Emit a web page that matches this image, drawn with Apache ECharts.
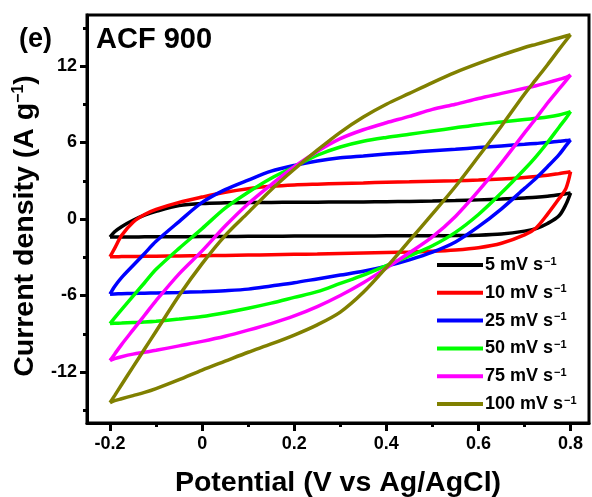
<!DOCTYPE html>
<html><head><meta charset="utf-8">
<script src="https://cdn.jsdelivr.net/npm/echarts@6/dist/echarts.min.js"></script>
<style>html,body{margin:0;padding:0;background:#fff}#c{width:592px;height:497px}</style>
</head><body><div id="c"></div>
<script>
// Potential grid (V vs Ag/AgCl): forward scan -0.2 -> 0.8, reverse 0.8 -> -0.2
const potentialFwd = [-0.2,-0.19,-0.175,-0.15,-0.125,-0.1,-0.05,0,0.05,0.1,0.15,0.2,0.25,0.3,0.35,0.4,0.45,0.5,0.55,0.6,0.65,0.7,0.725,0.75,0.775,0.79,0.8];
const potentialRev = [0.8,0.79,0.775,0.75,0.725,0.7,0.65,0.6,0.55,0.5,0.45,0.4,0.35,0.3,0.25,0.2,0.15,0.1,0.05,0,-0.05,-0.1,-0.125,-0.15,-0.175,-0.19,-0.2];

const scanRates = ['5','10','25','50','75','100'];
const colors = ['#000000','#ff0000','#0000ff','#00ff00','#ff00ff','#808000'];

// Current density (A g^-1)
const fwd5   = [-1.42,-1.0,-0.6,-0.1,0.3,0.6,1.05,1.22,1.27,1.29,1.3,1.31,1.32,1.33,1.34,1.36,1.38,1.41,1.45,1.5,1.56,1.65,1.7,1.78,1.9,1.98,2.05];
const rev5   = [2.05,1.15,0.25,-0.35,-0.75,-0.95,-1.18,-1.27,-1.3,-1.31,-1.32,-1.32,-1.33,-1.33,-1.34,-1.34,-1.35,-1.36,-1.37,-1.38,-1.39,-1.4,-1.4,-1.41,-1.41,-1.42,-1.42];
const fwd10  = [-2.96,-2.3,-1.3,-0.25,0.35,0.75,1.3,1.72,2.1,2.38,2.56,2.67,2.73,2.78,2.83,2.88,2.92,2.96,3.0,3.05,3.13,3.25,3.33,3.43,3.56,3.64,3.71];
const rev10  = [3.71,2.4,1.6,0.38,-0.7,-1.25,-1.9,-2.25,-2.43,-2.53,-2.58,-2.62,-2.66,-2.7,-2.74,-2.77,-2.8,-2.83,-2.86,-2.88,-2.9,-2.92,-2.93,-2.94,-2.95,-2.96,-2.96];
const fwd25  = [-5.9,-5.3,-4.6,-3.65,-2.7,-1.75,-0.2,1.3,2.3,3.05,3.75,4.2,4.55,4.8,4.95,5.1,5.22,5.35,5.47,5.6,5.73,5.86,5.93,6.0,6.1,6.15,6.2];
const rev25  = [6.2,5.75,5.05,4.1,3.2,2.4,0.8,-0.6,-1.8,-2.6,-3.2,-3.7,-4.1,-4.4,-4.7,-5.0,-5.25,-5.5,-5.62,-5.7,-5.76,-5.8,-5.82,-5.84,-5.86,-5.88,-5.9];
const fwd50  = [-8.2,-7.75,-7.1,-6.05,-5.0,-3.95,-2.3,-0.75,0.85,2.1,3.2,4.1,5.0,5.65,6.1,6.4,6.65,6.9,7.15,7.4,7.6,7.8,7.9,8.0,8.15,8.3,8.42];
const rev50  = [8.42,7.9,7.2,6.0,4.9,3.9,2.05,0.35,-1.05,-2.1,-2.9,-3.65,-4.4,-5.05,-5.7,-6.15,-6.6,-7.0,-7.35,-7.65,-7.85,-8.02,-8.08,-8.12,-8.16,-8.18,-8.2];
const fwd75  = [-11.1,-10.6,-9.85,-8.7,-7.55,-6.4,-4.3,-2.5,-0.55,1.2,2.7,4.1,5.3,6.3,7.0,7.55,8.05,8.6,9.0,9.45,9.85,10.25,10.45,10.7,10.95,11.1,11.3];
const rev75  = [11.3,10.85,10.2,9.1,7.9,6.75,4.4,2.2,0.2,-1.4,-2.65,-3.85,-5.0,-6.0,-6.87,-7.6,-8.2,-8.72,-9.2,-9.6,-9.95,-10.3,-10.45,-10.6,-10.8,-10.95,-11.1];
const fwd100 = [-14.4,-13.85,-13.0,-11.6,-10.2,-8.8,-6.0,-3.5,-1.3,0.5,2.3,3.9,5.4,6.8,8.0,9.0,9.85,10.7,11.5,12.2,12.85,13.45,13.7,13.95,14.2,14.35,14.45];
const rev100 = [14.45,14.0,13.3,12.1,10.95,9.8,7.3,4.9,2.55,0.4,-1.7,-3.8,-5.75,-7.3,-8.3,-9.1,-9.8,-10.45,-11.15,-11.85,-12.6,-13.3,-13.6,-13.85,-14.1,-14.25,-14.4];

const xTicks = [-0.2,0,0.2,0.4,0.6,0.8];
const xMinorTicks = [-0.1,0.1,0.3,0.5,0.7];
const yTicks = [-12,-6,0,6,12];
const yMinorTicks = [-15,-9,-3,3,9,15];

const fwdList = [fwd5,fwd10,fwd25,fwd50,fwd75,fwd100];
const revList = [rev5,rev10,rev25,rev50,rev75,rev100];

const FONT = 'Liberation Sans, Arial, sans-serif';
const names = scanRates.map(r => r + ' mV s-1');

const series = [];
scanRates.forEach((r, i) => {
  const base = {
    name: names[i], type: 'line', xAxisIndex: 0, yAxisIndex: 0,
    symbol: 'none', showSymbol: false, smooth: 0.3, animation: false,
    color: colors[i], lineStyle: {color: colors[i], width: 3.5}, z: 2 + i
  };
  series.push(Object.assign({}, base, {data: potentialFwd.map((p, k) => [p, fwdList[i][k]])}));
  series.push(Object.assign({}, base, {data: potentialRev.map((p, k) => [p, revList[i][k]])}));
});

const chart = echarts.init(document.getElementById('c'));
chart.setOption({
  animation: false,
  backgroundColor: '#fff',
  title: [
    {text: '(e)', left: 14, top: 21, textStyle: {fontFamily: FONT, fontWeight: 'bold', fontSize: 27, color: '#000'}},
    {text: 'ACF 900', left: 91, top: 20, textStyle: {fontFamily: FONT, fontWeight: 'bold', fontSize: 29, color: '#000'}}
  ],
  grid: {left: 87, right: 3, top: 15, bottom: 74, show: true, borderColor: '#000', borderWidth: 3, containLabel: false, outerBoundsMode: 'none'},
  legend: {
    orient: 'vertical', left: 432, top: 251, itemWidth: 46, itemHeight: 4, itemGap: 6.8,
    icon: 'rect', selectedMode: false, data: names,
    formatter: n => '{a|' + n.replace('-1', '') + '}{b|\u22121}',
    textStyle: {
      fontFamily: FONT, fontWeight: 'bold', fontSize: 18, color: '#000', padding: [0,0,0,-3],
      rich: {
        a: {fontFamily: FONT, fontWeight: 'bold', fontSize: 18, color: '#000', lineHeight: 18},
        b: {fontFamily: FONT, fontSize: 11, color: '#000', verticalAlign: 'top', lineHeight: 18, padding: [0,0,10,1]}
      }
    }
  },
  xAxis: [
    {
      type: 'value', min: -0.25, max: 0.84, position: 'bottom',
      name: 'Potential (V vs Ag/AgCl)', nameLocation: 'middle', nameGap: 46,
      nameTextStyle: {fontFamily: FONT, fontWeight: 'bold', fontSize: 28.5, color: '#000'},
      axisLine: {show: true, onZero: false, lineStyle: {color: '#000', width: 3}},
      axisTick: {show: true, customValues: xTicks, length: 8, lineStyle: {color: '#000', width: 3}},
      axisLabel: {show: true, customValues: xTicks, margin: 12, fontFamily: FONT, fontWeight: 'bold', fontSize: 18, color: '#000'},
      splitLine: {show: false}
    },
    {
      type: 'value', min: -0.25, max: 0.84, position: 'bottom',
      axisLine: {show: false, onZero: false},
      axisTick: {show: true, customValues: xMinorTicks, length: 4, lineStyle: {color: '#000', width: 3}},
      axisLabel: {show: false},
      splitLine: {show: false}
    }
  ],
  yAxis: [
    {
      type: 'value', min: -16, max: 16, position: 'left',
      name: 'Current density (A g{s|\u22121})', nameLocation: 'middle', nameGap: 45,
      nameTextStyle: {fontFamily: FONT, fontWeight: 'bold', fontSize: 28.5, color: '#000', padding: [0,14,0,0],
        rich: {s: {fontFamily: FONT, fontWeight: 'bold', fontSize: 16, color: '#000', verticalAlign: 'top', padding: [0,0,14,0]}}},
      axisLine: {show: true, onZero: false, lineStyle: {color: '#000', width: 3}},
      axisTick: {show: true, customValues: yTicks, length: 7, lineStyle: {color: '#000', width: 3}},
      axisLabel: {show: true, customValues: yTicks, margin: 10, fontFamily: FONT, fontWeight: 'bold', fontSize: 18, color: '#000'},
      splitLine: {show: false}
    },
    {
      type: 'value', min: -16, max: 16, position: 'left',
      axisLine: {show: false, onZero: false},
      axisTick: {show: true, customValues: yMinorTicks, length: 4, lineStyle: {color: '#000', width: 3}},
      axisLabel: {show: false},
      splitLine: {show: false}
    }
  ],
  series: series
});
</script>
</body></html>
